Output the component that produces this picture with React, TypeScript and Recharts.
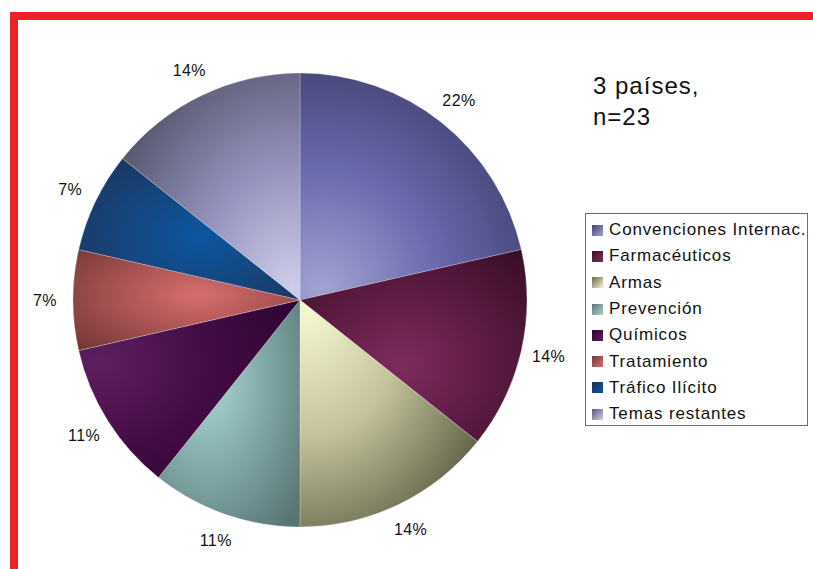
import React from "react";
import { PieChart, Pie, Cell } from "recharts";

const categories = [
  "Convenciones Internac.",
  "Farmacéuticos",
  "Armas",
  "Prevención",
  "Químicos",
  "Tratamiento",
  "Tráfico Ilícito",
  "Temas restantes",
];
const counts = [6, 4, 4, 3, 3, 2, 2, 4];
const pctLabels = ["22%", "14%", "14%", "11%", "11%", "7%", "7%", "14%"];
const titleLines = ["3 países,", "n=23"];

// gradient specs: [cx, cy, r, light, mid, dark]
const gradients: [number, number, number, string, string, string][] = [
  [0.1, 0.95, 1.05, "#a3a2d2", "#6a6aae", "#424272"],
  [0.45, 0.6, 0.75, "#7e2c5c", "#5e1c44", "#3c0f28"],
  [0.05, 0.05, 1.1, "#f6f6d2", "#c3c29a", "#66664c"],
  [0.35, 0.35, 0.85, "#abd6d6", "#7fa6a6", "#587474"],
  [0.1, 0.35, 1.0, "#5e2060", "#430b45", "#2a0430"],
  [0.55, 0.45, 0.75, "#d66e6e", "#a85252", "#733636"],
  [0.55, 0.55, 0.75, "#0c56a0", "#16457c", "#1c3158"],
  [0.95, 0.95, 1.1, "#cfcdea", "#9391bb", "#575870"],
];

const data = categories.map((name, i) => ({ name, value: counts[i], label: pctLabels[i] }));

const RADIAN = Math.PI / 180;
const FONT = "'Liberation Sans', Arial, sans-serif";

const renderLabel = (props: any) => {
  const { cx, cy, midAngle, outerRadius, index } = props;
  const r = outerRadius + 28;
  const x = cx + r * Math.cos(-midAngle * RADIAN);
  const y = cy + r * Math.sin(-midAngle * RADIAN);
  return (
    <text
      x={x}
      y={y}
      textAnchor="middle"
      dominantBaseline="central"
      fontFamily={FONT}
      fontSize={16}
      letterSpacing={0.4}
      fill="#111"
    >
      {pctLabels[index]}
    </text>
  );
};

export default function App() {
  return (
    <div style={{ position: "absolute", left: 0, top: 0, width: 813, height: 569, background: "#fff", overflow: "hidden" }}>
      <div
        style={{
          position: "absolute",
          left: 10,
          top: 12,
          width: 803,
          height: 557,
          borderTop: "8px solid #ee2226",
          borderLeft: "8px solid #ee2226",
          boxSizing: "border-box",
        }}
      />
      <div
        style={{
          position: "absolute",
          left: 593,
          top: 70,
          fontFamily: FONT,
          fontSize: 24,
          letterSpacing: 1,
          lineHeight: "31px",
          color: "#111",
        }}
      >
        {titleLines.map((t) => (
          <div key={t}>{t}</div>
        ))}
      </div>
      <div style={{ position: "absolute", left: 0, top: 0 }}>
        <PieChart width={813} height={569} margin={{ top: 0, right: 0, bottom: 0, left: 0 }}>
          <defs>
            {gradients.map((g, i) => (
              <radialGradient key={i} id={`grad${i}`} cx={g[0]} cy={g[1]} r={g[2]} fx={g[0]} fy={g[1]}>
                <stop offset="0%" stopColor={g[3]} />
                <stop offset="50%" stopColor={g[4]} />
                <stop offset="100%" stopColor={g[5]} />
              </radialGradient>
            ))}
          </defs>
          <Pie
            data={data}
            dataKey="value"
            nameKey="name"
            cx={300}
            cy={300}
            outerRadius={227}
            startAngle={90}
            endAngle={-270}
            label={renderLabel}
            labelLine={false}
            isAnimationActive={false}
            stroke="rgba(255,255,255,0.35)"
            strokeWidth={0.7}
          >
            {data.map((d, i) => (
              <Cell key={d.name} fill={`url(#grad${i})`} />
            ))}
          </Pie>
        </PieChart>
      </div>
      <div
        style={{
          position: "absolute",
          left: 585,
          top: 213,
          border: "1px solid #6e6e6e",
          background: "#fff",
          width: 223,
          height: 213,
          padding: "3px 0 0 0",
          boxSizing: "border-box",
          fontFamily: FONT,
          fontSize: 17,
          letterSpacing: 0.85,
          color: "#111",
        }}
      >
        {categories.map((c, i) => (
          <div key={c} style={{ display: "flex", alignItems: "center", height: 26.3, whiteSpace: "nowrap" }}>
            <span
              style={{
                display: "inline-block",
                width: 11,
                height: 11,
                marginLeft: 6,
                marginRight: 6,
                flexShrink: 0,
                background: `linear-gradient(135deg, ${gradients[i][5]}, ${gradients[i][3]})`,
              }}
            />
            <span>{c}</span>
          </div>
        ))}
      </div>
    </div>
  );
}
